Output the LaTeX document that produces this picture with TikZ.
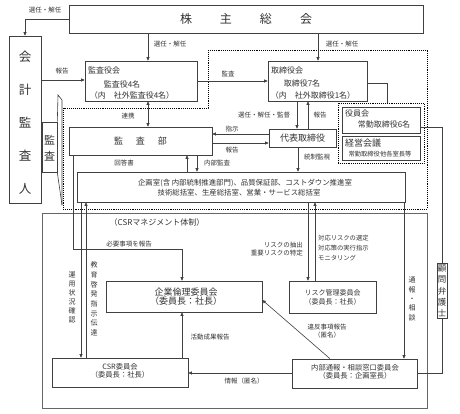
\documentclass[tikz,border=0pt]{standalone}
\usepackage{fontspec}
\setmainfont{Noto Sans CJK JP}
\usetikzlibrary{arrows.meta}
\begin{document}
\begin{tikzpicture}[x=1pt,y=-1pt,
  line/.style={draw=black!75, line width=0.6pt},
  arr/.style={line, -{Triangle[length=3.5pt,width=3pt]}},
  darr/.style={line, {Triangle[length=3.5pt,width=3pt]}-{Triangle[length=3.5pt,width=3pt]}},
  box/.style={line, rectangle, inner sep=0pt, fill=white},
  dots/.style={draw=black, line width=0.9pt, densely dotted},
  lbl/.style={font=\fontsize{6.5}{8}\selectfont, text=black!80, inner sep=0pt, align=center},
  txt/.style={font=\fontsize{8}{10}\selectfont, text=black!80, inner sep=0pt, align=center},
  vtxt/.style={text=black!80, inner sep=0pt, align=center},
]
\useasboundingbox (0,0) rectangle (460,413);
\fill[white] (0,0) rectangle (460,413);

% dotted regions
\draw[dots] (208,50) -- (427,50) -- (427,209) -- (63,209) -- (63,108) -- (208,108) -- cycle;
\node[dots, rectangle, inner sep=0pt, minimum width=86pt, minimum height=60pt] (grp) at (381,133) {};

% CSR frame
\node[draw=black!60, line width=0.7pt, rectangle, inner sep=0pt, minimum width=385pt, minimum height=195pt] (csrframe) at (234.5,310.5) {};
\node[txt, font=\fontsize{8}{10}\selectfont] (csrtitle) at (157,222) {（CSRマネジメント体制）};

% boxes
\node[box, minimum width=354pt, minimum height=28pt] (kabu) at (246,19) {};
\node[vtxt, font=\fontsize{12}{12}\selectfont] (kabut) at (246,19) {株\hspace{28pt}主\hspace{28pt}総\hspace{28pt}会};

\node[box, minimum width=32pt, minimum height=167pt] (kaikei) at (25,119.5) {};
\node[vtxt, font=\fontsize{12.5}{33}\selectfont] (kaikeit) at (25,123) {会\\計\\監\\査\\人};

\node[box, minimum width=15pt, minimum height=50pt] (kansabox) at (49.5,147) {};
\node[vtxt, font=\fontsize{11}{16}\selectfont] (kansaboxt) at (49.5,148) {監\\査};

\node[box, minimum width=112pt, minimum height=40pt] (ksyk) at (141,81) {};
\node[txt, anchor=west] (ksykt1) at (88,70) {監査役会};
\node[txt] (ksykt2) at (122,84) {監査役4名};
\node[txt] (ksykt3) at (132,95) {（内　社外監査役4名）};

\node[box, minimum width=99pt, minimum height=40pt] (trk) at (317.5,81) {};
\node[txt, anchor=west] (trkt1) at (271,70) {取締役会};
\node[txt] (trkt2) at (302,83) {取締役7名};
\node[txt] (trkt3) at (313,95) {（内　社外取締役1名）};

\node[box, minimum width=78pt, minimum height=26pt] (yakuin) at (381,120) {};
\node[txt, anchor=west] (yakuint1) at (345,113) {役員会};
\node[txt] (yakuint2) at (384,124) {常勤取締役6名};

\node[box, minimum width=78pt, minimum height=24pt] (keiei) at (381,148) {};
\node[txt, anchor=west, font=\fontsize{9}{10}\selectfont] (keieit1) at (345,143) {経営会議};
\node[txt, font=\fontsize{6.3}{7}\selectfont] (keieit2) at (380,154) {常勤取締役他各室長等};

\node[box, minimum width=143pt, minimum height=28pt] (kansabu) at (140.5,141) {};
\node[vtxt, font=\fontsize{9}{10}\selectfont] (kansabut) at (140.5,141) {監\hspace{13pt}査\hspace{13pt}部};

\node[box, minimum width=67pt, minimum height=18pt] (daihyo) at (302.5,138) {};
\node[vtxt, font=\fontsize{9}{10}\selectfont] (daihyot) at (302.5,138) {代表取締役};

\node[box, minimum width=328pt, minimum height=30pt] (kikaku) at (241,187) {};
\node[txt, font=\fontsize{7.4}{10}\selectfont] (kikakut1) at (245,183) {企画室(含 内部統制推進部門)、品質保証部、コストダウン推進室};
\node[txt, font=\fontsize{7.4}{10}\selectfont] (kikakut2) at (239,193) {技術総括室、生産総括室、営業・サービス総括室};

\node[box, minimum width=156pt, minimum height=31pt] (rinri) at (184,296.5) {};
\node[txt, font=\fontsize{9}{9.5}\selectfont] (rinrit) at (186,296.5) {企業倫理委員会\\（委員長：社長）};

\node[box, minimum width=87pt, minimum height=32pt] (risk) at (332.5,297) {};
\node[txt, font=\fontsize{7}{9}\selectfont] (riskt) at (332.5,297) {リスク管理委員会\\（委員長：社長）};

\node[box, minimum width=125pt, minimum height=29pt] (naibu) at (354.5,373.5) {};
\node[txt, font=\fontsize{7.3}{8.5}\selectfont] (naibut) at (355,372) {内部通報・相談窓口委員会\\（委員長：企画室長）};

\node[box, minimum width=136pt, minimum height=29pt] (csr) at (120,372.5) {};
\node[txt, font=\fontsize{7.3}{8.5}\selectfont] (csrt) at (120,371) {CSR委員会\\（委員長：社長）};

\node[box, minimum width=10pt, minimum height=55pt] (komon) at (442,290.5) {};
\node[vtxt, font=\fontsize{8.5}{11.3}\selectfont] (komont) at (442,291) {顧\\問\\弁\\護\\士};

% callout of 監査
\draw[line] (kansabox.north east) -- (58,95) -- (62,100) -- (62,205);
\draw[line] (kansabox.south east) -- (62,205);

% connectors
\draw[arr] (kabu.west) -| (kaikei.north);
\node[lbl] (l1) at (45,10) {選任・解任};
\draw[arr] (kabu.south -| 148,0) -- (ksyk.north -| 148,0);
\node[lbl] (l2) at (170,44) {選任・解任};
\draw[arr] (kabu.south -| 318,0) -- (trk.north -| 318,0);
\node[lbl] (l3) at (342,44) {選任・解任};
\draw[arr] (kaikei.east |- 0,80) -- (ksyk.west |- 0,80);
\node[lbl] (l4) at (62,71) {報告};
\draw[arr] (ksyk.east) -- (trk.west);
\node[lbl] (l5) at (228,74) {監査};
\draw[line] (trk.east |- 0,83) -| (grp.north -| 387,0);
\draw[darr] (ksyk.south -| 148,0) -- (kansabu.north -| 148,0);
\node[lbl] (l6) at (128,116) {連携};
\draw[arr] (trk.south -| 297,0) -- (daihyo.north -| 297,0);
\node[lbl] (l7) at (264,115) {選任・解任・監督};
\draw[arr] (daihyo.north -| 308,0) -- (trk.south -| 308,0);
\node[lbl] (l8) at (320,115) {報告};
\draw[arr] (daihyo.west |- 0,134) -- (kansabu.east |- 0,134);
\node[lbl] (l9) at (232,129) {指示};
\draw[arr] (kansabu.east |- 0,143) -- (daihyo.west |- 0,143);
\node[lbl] (l10) at (232,150) {報告};
\draw[arr] (daihyo.south -| 298,0) -- (kikaku.north -| 298,0);
\node[lbl] (l11) at (317,157) {統制監視};
\draw[arr] (kikaku.north -| 187,0) -- (kansabu.south -| 187,0);
\node[lbl] (l12) at (124,163) {回答書};
\draw[arr] (kansabu.south -| 197,0) -- (kikaku.north -| 197,0);
\node[lbl] (l13) at (217,163) {内部監査};

\draw[arr] (kansabu.south -| 73,0) -- (73,249) -| (rinri.north -| 182,0);
\node[lbl] (l14) at (129,244) {必要事項を報告};
\draw[arr] (kikaku.south -| 81,0) -- (csr.north -| 81,0);
\draw[arr] (csr.north -| 86,0) -- (kikaku.south -| 86,0);
\node[vtxt, font=\fontsize{7}{9}\selectfont] (l15) at (72,297) {運\\用\\状\\況\\確\\認};
\node[vtxt, font=\fontsize{7}{9.7}\selectfont] (l16) at (94,299) {教\\育\\啓\\発\\指\\示\\伝\\達};

\draw[arr] (kikaku.south -| 308,0) -- (risk.north -| 308,0);
\draw[arr] (risk.north -| 315,0) -- (kikaku.south -| 315,0);
\node[lbl, anchor=east, align=right] (l17) at (303,249) {リスクの抽出\\重要リスクの特定};
\node[lbl, anchor=west, align=left, font=\fontsize{6.3}{10}\selectfont] (l18) at (318,248) {対応リスクの選定\\対応策の実行指示\\モニタリング};

\draw[arr] (kikaku.south -| 404,0) -- (naibu.north -| 404,0);
\node[vtxt, font=\fontsize{7}{9.3}\selectfont] (l19) at (412,299) {通\\報\\・\\相\\談};

\draw[arr] (csr.north -| 182,0) -- (rinri.south -| 182,0);
\node[lbl] (l20) at (210,337) {活動成果報告};
\draw[arr] (naibu.west |- 0,373) -- (csr.east |- 0,373);
\node[lbl] (l21) at (244,381) {情報（匿名）};
\draw[arr] (naibu.north -| 330,0) -- (rinri.east |- 0,300);
\node[lbl] (l22) at (327,331) {違反事項報告\\（匿名）};

\draw[line] (yakuin.east |- 0,127) -| (komon.north);
\draw[line] (komon.south) |- (naibu.east);
\end{tikzpicture}
\end{document}
